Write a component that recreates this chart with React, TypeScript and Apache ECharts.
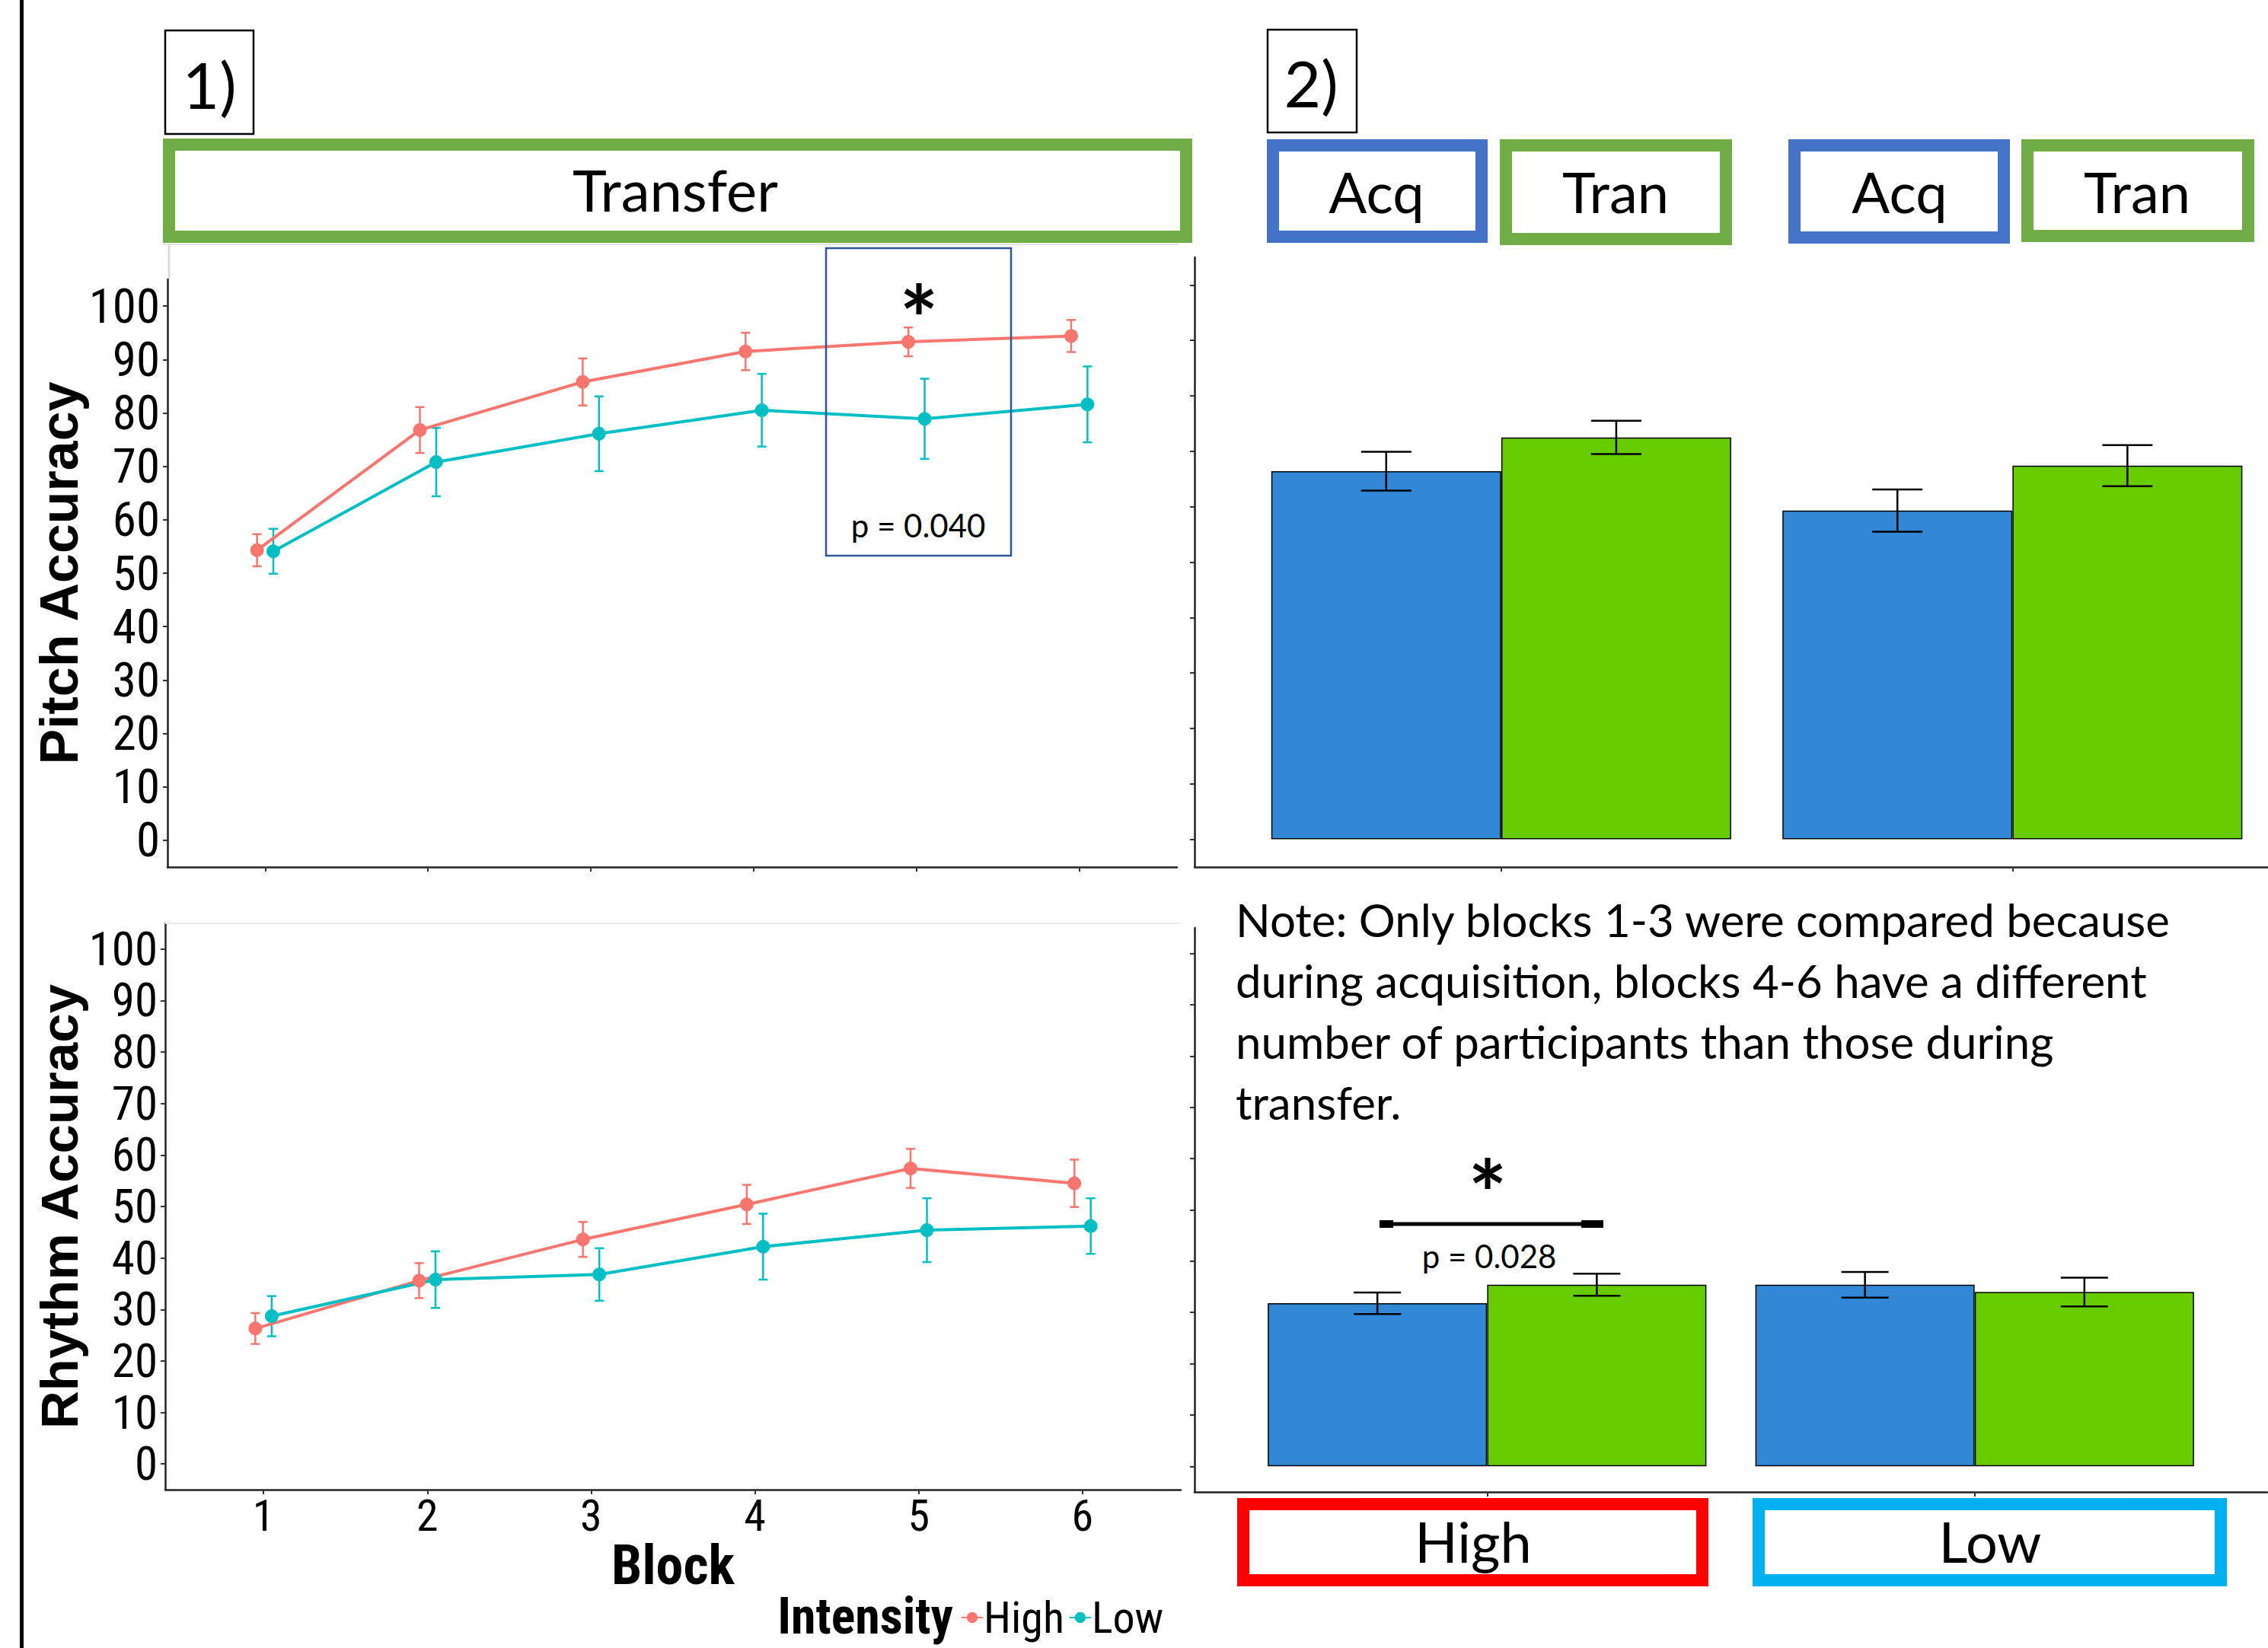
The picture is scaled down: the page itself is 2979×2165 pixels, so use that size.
import React, { useEffect, useRef } from "react";
import * as echarts from "echarts";

// ---------- data ----------
const blocks = [1, 2, 3, 4, 5, 6];
const yTicks = [0, 10, 20, 30, 40, 50, 60, 70, 80, 90, 100];

const pitchHigh = [54.3, 76.8, 85.8, 91.5, 93.3, 94.4];
const pitchHighSE = [3.0, 4.3, 4.4, 3.5, 2.7, 3.0];
const pitchLow = [54.1, 70.8, 76.1, 80.5, 78.9, 81.6];
const pitchLowSE = [4.2, 6.4, 7.0, 6.8, 7.5, 7.1];

const rhythmHigh = [26.3, 35.6, 43.6, 50.4, 57.4, 54.5];
const rhythmHighSE = [3.0, 3.4, 3.4, 3.8, 3.8, 4.6];
const rhythmLow = [28.7, 35.8, 36.8, 42.2, 45.4, 46.2];
const rhythmLowSE = [3.9, 5.5, 5.1, 6.4, 6.2, 5.4];

const groups = ["High", "Low"];
const groupX = [1, 2];
const pitchAcq = [66.4, 59.3];
const pitchAcqSE = [3.5, 3.8];
const pitchTran = [72.5, 67.4];
const pitchTranSE = [3.0, 3.7];
const rhythmAcq = [31.8, 35.4];
const rhythmAcqSE = [2.1, 2.5];
const rhythmTran = [35.4, 34.0];
const rhythmTranSE = [2.15, 2.8];

const noteLines = [
  "Note: Only blocks 1-3 were compared because",
  "during acquisition, blocks 4-6 have a different",
  "number of participants than those during",
  "transfer.",
];

// ---------- styles ----------
const RED = "#F8766D";
const TEAL = "#00BFC4";
const BAR_BLUE = "#3288D4";
const BAR_GREEN = "#66CC00";
const FONT_NARROW =
  "'Liberation Sans Narrow','Arial Narrow','Roboto Condensed','DejaVu Sans Condensed','Liberation Sans',sans-serif";
const FONT_ARIAL = "'Liberation Sans', Arial, sans-serif";
const FONT_CAL = "Lato, 'Open Sans', sans-serif";

function errSeries(idx: number, xs: number[], ys: number[], se: number[], color: string, halfCap: number, lw: number, name: string) {
  return {
    type: "custom",
    name,
    xAxisIndex: idx,
    yAxisIndex: idx,
    z: 3,
    data: xs.map((x, i) => [x, ys[i] - se[i], ys[i] + se[i]]),
    encode: { x: 0, y: [1, 2] },
    renderItem: (_p: any, api: any) => {
      const x = api.value(0);
      const lo = api.coord([x, api.value(1)]);
      const hi = api.coord([x, api.value(2)]);
      const style = { stroke: color, lineWidth: lw, fill: "none" };
      return {
        type: "group",
        children: [
          { type: "line", shape: { x1: lo[0], y1: lo[1], x2: hi[0], y2: hi[1] }, style },
          { type: "line", shape: { x1: lo[0] - halfCap, y1: lo[1], x2: lo[0] + halfCap, y2: lo[1] }, style },
          { type: "line", shape: { x1: hi[0] - halfCap, y1: hi[1], x2: hi[0] + halfCap, y2: hi[1] }, style },
        ],
      };
    },
  };
}

function lineSeries(idx: number, name: string, xs: number[], ys: number[], color: string) {
  return {
    type: "line",
    name,
    xAxisIndex: idx,
    yAxisIndex: idx,
    z: 4,
    data: xs.map((x, i) => [x, ys[i]]),
    symbol: "circle",
    symbolSize: 18,
    itemStyle: { color },
    lineStyle: { color, width: 4 },
  };
}

function barSeries(idx: number, name: string, xs: number[], ys: number[], color: string, width: number) {
  return {
    type: "bar",
    name,
    xAxisIndex: idx,
    yAxisIndex: idx,
    z: 2,
    barWidth: width,
    barGap: "-100%",
    data: xs.map((x, i) => [x, ys[i]]),
    itemStyle: { color, borderColor: "#000", borderWidth: 1.5 },
  };
}

const axisLineStyle = { show: true, onZero: false, lineStyle: { color: "#222", width: 2.5 } };
const tickStyle = { show: true, length: 6, lineStyle: { color: "#333", width: 2 } };

function xAxisDef(idx: number, min: number, max: number, ticks: number[], showLabels: boolean, extra: any = {}) {
  return {
    type: "value",
    gridIndex: idx,
    min,
    max,
    axisLine: axisLineStyle,
    axisTick: { ...tickStyle, customValues: ticks },
    axisLabel: {
      show: showLabels,
      customValues: ticks,
      fontFamily: FONT_NARROW,
      fontSize: 58,
      color: "#000",
      margin: 5,
    },
    splitLine: { show: false },
    ...extra,
  };
}

function yAxisDef(idx: number, showLabels: boolean, size: number, extra: any = {}) {
  return {
    type: "value",
    gridIndex: idx,
    min: -5,
    max: 105,
    axisLine: axisLineStyle,
    axisTick: { ...tickStyle, customValues: yTicks },
    axisLabel: {
      show: showLabels,
      customValues: yTicks,
      fontFamily: FONT_NARROW,
      fontSize: size,
      color: "#000",
      margin: 10,
    },
    splitLine: { show: false },
    ...extra,
  };
}

function box(x0: number, y0: number, x1: number, y1: number, color: string, lw: number) {
  return {
    type: "rect",
    z: 10,
    shape: { x: x0 + lw / 2, y: y0 + lw / 2, width: x1 - x0 - lw, height: y1 - y0 - lw },
    style: { fill: "#fff", stroke: color, lineWidth: lw },
  };
}

function txt(text: string, x: number, y: number, size: number, extra: any = {}) {
  return {
    type: "text",
    z: 20,
    x,
    y,
    style: {
      text,
      fontSize: size,
      fontFamily: FONT_CAL,
      fill: "#000",
      align: "center",
      verticalAlign: "middle",
      textAlign: "center",
      textVerticalAlign: "middle",
      ...extra,
    },
  };
}

function line(x1: number, y1: number, x2: number, y2: number, color: string, lw: number) {
  return { type: "line", z: 15, shape: { x1, y1, x2, y2 }, style: { stroke: color, lineWidth: lw } };
}

export default function App() {
  const ref = useRef<HTMLDivElement>(null);
  useEffect(() => {
    if (!ref.current) return;
    const chart = echarts.init(ref.current, null, { renderer: "svg" });
    const lowX = blocks.map((b) => b + 0.05);
    const highX = blocks.map((b) => b - 0.05);
    const acqX = groupX.map((g) => g - 0.225);
    const tranX = groupX.map((g) => g + 0.225);

    const graphics: any[] = [
      // left black rule
      { type: "rect", z: 20, shape: { x: 26, y: 0, width: 5, height: 2165 }, style: { fill: "#000" } },
      // faint strip remnants
      line(222, 320, 222, 366, "#dcdcdc", 3),
      line(214, 321, 1548, 321, "#e2e2e2", 2),
      line(217, 1213, 1551, 1213, "#ebebeb", 2),
      // panel labels
      { type: "rect", z: 10, shape: { x: 217, y: 40, width: 116, height: 136 }, style: { fill: "#fff", stroke: "#000", lineWidth: 2.5 } },
      txt("1)", 275, 110, 84),
      { type: "rect", z: 10, shape: { x: 1665, y: 39, width: 117, height: 135 }, style: { fill: "#fff", stroke: "#000", lineWidth: 2.5 } },
      txt("2)", 1722, 108, 84),
      // condition boxes
      box(214, 182, 1566, 319, "#70AD47", 16),
      txt("Transfer", 887, 248, 76),
      box(1664, 183, 1954, 319, "#4472C4", 16),
      txt("Acq", 1808, 251, 74),
      box(1970, 183, 2275, 322, "#70AD47", 16),
      txt("Tran", 2122, 251, 74),
      box(2349, 183, 2640, 320, "#4472C4", 16),
      txt("Acq", 2495, 251, 74),
      box(2655, 183, 2961, 318, "#70AD47", 16),
      txt("Tran", 2807, 251, 74),
      box(1625, 1968, 2244, 2084, "#FF0000", 16),
      txt("High", 1935, 2024, 74),
      box(2302, 1968, 2925, 2084, "#00B0F0", 16),
      txt("Low", 2614, 2024, 74),
      // significance in pitch line chart
      { type: "rect", z: 12, shape: { x: 1085, y: 326, width: 243, height: 404 }, style: { fill: "none", stroke: "#2F5597", lineWidth: 2.5 } },
      txt("*", 1207, 418, 120, { fontWeight: "bold", lineHeight: 60 }),
      txt("p = 0.040", 1206, 690, 42),
      // significance in rhythm bars
      txt("*", 1954, 1567, 120, { fontWeight: "bold", lineHeight: 60 }),
      line(1812, 1608, 2106, 1608, "#000", 5),
      { type: "rect", z: 15, shape: { x: 1812, y: 1603, width: 18, height: 10 }, style: { fill: "#000" } },
      { type: "rect", z: 15, shape: { x: 2077, y: 1603, width: 29, height: 10 }, style: { fill: "#000" } },
      txt("p = 0.028", 1956, 1650, 42),
      // legend title
      txt("Intensity", 1252, 2123, 66, { fontFamily: FONT_NARROW, fontWeight: "bold", align: "right", textAlign: "right" }),
    ];
    noteLines.forEach((t, i) => {
      graphics.push(txt(t, 1623, 1208 + i * 80, 60, { align: "left", textAlign: "left" }));
    });

    chart.setOption({
      animation: false,
      backgroundColor: "#fff",
      grid: [
        { left: 220, top: 367, width: 1326, height: 772, outerBoundsMode: "none" },
        { left: 217, top: 1213, width: 1334, height: 744, outerBoundsMode: "none" },
        { left: 1569, top: 338, width: 1410, height: 801, outerBoundsMode: "none" },
        { left: 1569, top: 1219, width: 1409, height: 741, outerBoundsMode: "none" },
      ],
      xAxis: [
        xAxisDef(0, 0.4, 6.6, blocks, false),
        xAxisDef(1, 0.4, 6.6, blocks, true, {
          name: "Block",
          nameLocation: "middle",
          nameGap: 48,
          nameTextStyle: { fontFamily: FONT_NARROW, fontWeight: "bold", fontSize: 72, color: "#000" },
        }),
        xAxisDef(2, 0.4, 2.5, groupX, false),
        xAxisDef(3, 0.4, 2.6, groupX, false),
      ],
      yAxis: [
        yAxisDef(0, true, 63, {
          name: "Pitch Accuracy",
          nameLocation: "middle",
          nameGap: 100,
          nameTextStyle: { fontFamily: FONT_ARIAL, fontWeight: "bold", fontSize: 70, color: "#000" },
        }),
        yAxisDef(1, true, 61, {
          name: "Rhythm Accuracy",
          nameLocation: "middle",
          nameGap: 100,
          nameTextStyle: { fontFamily: FONT_ARIAL, fontWeight: "bold", fontSize: 69, color: "#000" },
        }),
        yAxisDef(2, false, 60),
        yAxisDef(3, false, 60),
      ],
      legend: {
        data: ["High", "Low"],
        left: 1262,
        top: 2096,
        itemWidth: 28,
        itemHeight: 18,
        itemGap: 6,
        padding: 0,
        textStyle: { fontFamily: FONT_NARROW, fontSize: 58, color: "#000", padding: [0, 0, 0, -4] },
      },
      graphic: { elements: graphics },
      series: [
        errSeries(0, highX, pitchHigh, pitchHighSE, RED, 6, 2.5, "errPH"),
        errSeries(0, lowX, pitchLow, pitchLowSE, TEAL, 6, 2.5, "errPL"),
        lineSeries(0, "High", highX, pitchHigh, RED),
        lineSeries(0, "Low", lowX, pitchLow, TEAL),
        errSeries(1, highX, rhythmHigh, rhythmHighSE, RED, 6, 2.5, "errRH"),
        errSeries(1, lowX, rhythmLow, rhythmLowSE, TEAL, 6, 2.5, "errRL"),
        lineSeries(1, "High", highX, rhythmHigh, RED),
        lineSeries(1, "Low", lowX, rhythmLow, TEAL),
        barSeries(2, "Acq pitch", acqX, pitchAcq, BAR_BLUE, 302),
        barSeries(2, "Tran pitch", tranX, pitchTran, BAR_GREEN, 302),
        errSeries(2, acqX, pitchAcq, pitchAcqSE, "#000", 33, 2.5, "errAP"),
        errSeries(2, tranX, pitchTran, pitchTranSE, "#000", 33, 2.5, "errTP"),
        barSeries(3, "Acq rhythm", acqX, rhythmAcq, BAR_BLUE, 288),
        barSeries(3, "Tran rhythm", tranX, rhythmTran, BAR_GREEN, 288),
        errSeries(3, acqX, rhythmAcq, rhythmAcqSE, "#000", 31, 2.5, "errAR"),
        errSeries(3, tranX, rhythmTran, rhythmTranSE, "#000", 31, 2.5, "errTR"),
      ],
    });
    return () => chart.dispose();
  }, []);
  return (
    <div
      ref={ref}
      style={{ position: "fixed", left: 0, top: 0, width: 2979, height: 2165, background: "#fff" }}
    />
  );
}
